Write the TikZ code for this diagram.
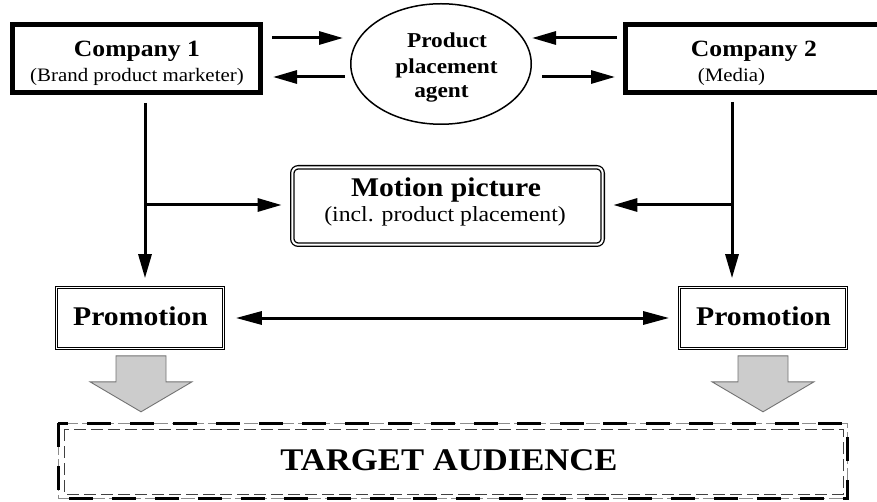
\documentclass[tikz,border=0pt]{standalone}
\usepackage{fontspec}
\setmainfont{Liberation Serif}[FakeStretch=1.1]
\usetikzlibrary{arrows.meta,calc,shapes.geometric}
\newcommand\myfs[1]{\fontsize{#1}{#1}\selectfont}
\begin{document}
\begin{tikzpicture}[x=1pt,y=-1pt,
  thickbox/.style={draw, line width=5pt, inner sep=0pt, minimum height=68pt},
  dblbox/.style={draw, line width=0.9pt, double=white, double distance=1.5pt, inner sep=0pt, minimum width=166.7pt, minimum height=60.7pt},
  roundbox/.style={draw, line width=1.3pt, double=white, double distance=2pt, rounded corners=6pt, inner sep=0pt, minimum width=310.4pt, minimum height=77.4pt},
  arr/.style={line width=3pt, -{Triangle[length=24pt,width=13pt]}},
  arrtwo/.style={line width=3pt, {Triangle[length=26pt,width=13pt]}-{Triangle[length=26pt,width=13pt]}},
  grayarr/.style={fill=black!20, draw=black!55, line width=0.9pt, line join=miter},
  downarrow/.pic={\draw[grayarr] (-25,0) -- (25,0) -- (25,26) -- (51,26) -- (0,56) -- (-51,26) -- (-25,26) -- cycle;},
  bt/.style={anchor=base, inner sep=0pt, font=\bfseries\myfs{#1}},
  rt/.style={anchor=base, inner sep=0pt, font=\myfs{#1}}
]
\useasboundingbox[fill=white] (0,0) rectangle (877,502);

% boxes
\node[thickbox, minimum width=248pt] (c1) at (136.5,58.5) {};
\node[thickbox, minimum width=256pt] (c2) at (753.5,58.5) {};
\node[ellipse, draw, line width=1.5pt, minimum width=180.5pt, minimum height=120.5pt, inner sep=0pt] (ppa) at (441,64) {};
\node[roundbox] (mp) at (447.5,206) {};
\node[dblbox] (p1) at (140,318) {};
\node[dblbox] (p2) at (763,318) {};
\node[inner sep=0pt, minimum width=789pt, minimum height=75pt] (ta) at (453,461) {};

% texts
\node[bt=23.3] (c1a) at (137,57) {Company 1};
\node[rt=19] (c1b) at (137,82) {(Brand product marketer)};
\node[bt=23.3] (c2a) at (754,57) {Company 2};
\node[rt=19] (c2b) at (731.5,82) {(Media)};
\node[bt=21.2] (ppaa) at (447,48) {Product};
\node[bt=21.2] (ppab) at (446.5,74) {placement};
\node[bt=21.2] (ppac) at (441.5,98) {agent};
\node[bt=27] (mpa) at (446,197) {Motion picture};
\node[rt=21.6] (mpb) at (445,222) {(incl. product placement)};
\node[bt=27] (p1a) at (140.5,325) {Promotion};
\node[bt=27] (p2a) at (763.5,325) {Promotion};
\node[bt=31.5] (taa) at (449,470) {TARGET AUDIENCE};

% target audience border
\draw[line width=1pt, black!45, dash pattern=on 14pt off 4pt] (ta.north west) rectangle (ta.south east);
\draw[line width=2.6pt, dash pattern=on 24pt off 19pt] (ta.north west) rectangle (ta.south east);
\draw[line width=0.9pt, black!75, dash pattern=on 12pt off 5pt] ([shift={(6,6)}]ta.north west) rectangle ([shift={(-4.5,-4.5)}]ta.south east);

% helper coordinates
\coordinate (r1) at (0,38);
\coordinate (r2) at (0,77);
\coordinate (v1) at (145,0);
\coordinate (v2) at (732,0);
\coordinate (h) at (0,205);

% top arrows
\draw[arr, shorten <=9pt, shorten >=7pt] (c1.east |- r1) -- (ppa.west |- r1);
\draw[arr, shorten <=5pt, shorten >=10pt] (ppa.west |- r2) -- (c1.east |- r2);
\draw[arr, shorten <=6pt, shorten >=0pt] (c2.west |- r1) -- (ppa.east |- r1);
\draw[arr, shorten <=10pt, shorten >=8pt] (ppa.east |- r2) -- (c2.west |- r2);

% verticals and branches
\draw[arr, shorten <=8pt, shorten >=9pt] (v1 |- c1.south) -- (v1 |- p1.north);
\draw[arr, shorten >=10pt] (v1 |- h) -- (mp.west |- h);
\draw[arr, shorten <=7pt, shorten >=9pt] (v2 |- c2.south) -- (v2 |- p2.north);
\draw[arr, shorten >=10pt] (v2 |- h) -- (mp.east |- h);

% promotion link
\draw[arrtwo, shorten <=12pt, shorten >=10pt] (p1.east) -- (p2.west);

% gray arrows
\pic at ([xshift=1pt,yshift=-7pt]p1.south) {downarrow};
\pic at ([yshift=-7pt]p2.south) {downarrow};
\end{tikzpicture}
\end{document}
